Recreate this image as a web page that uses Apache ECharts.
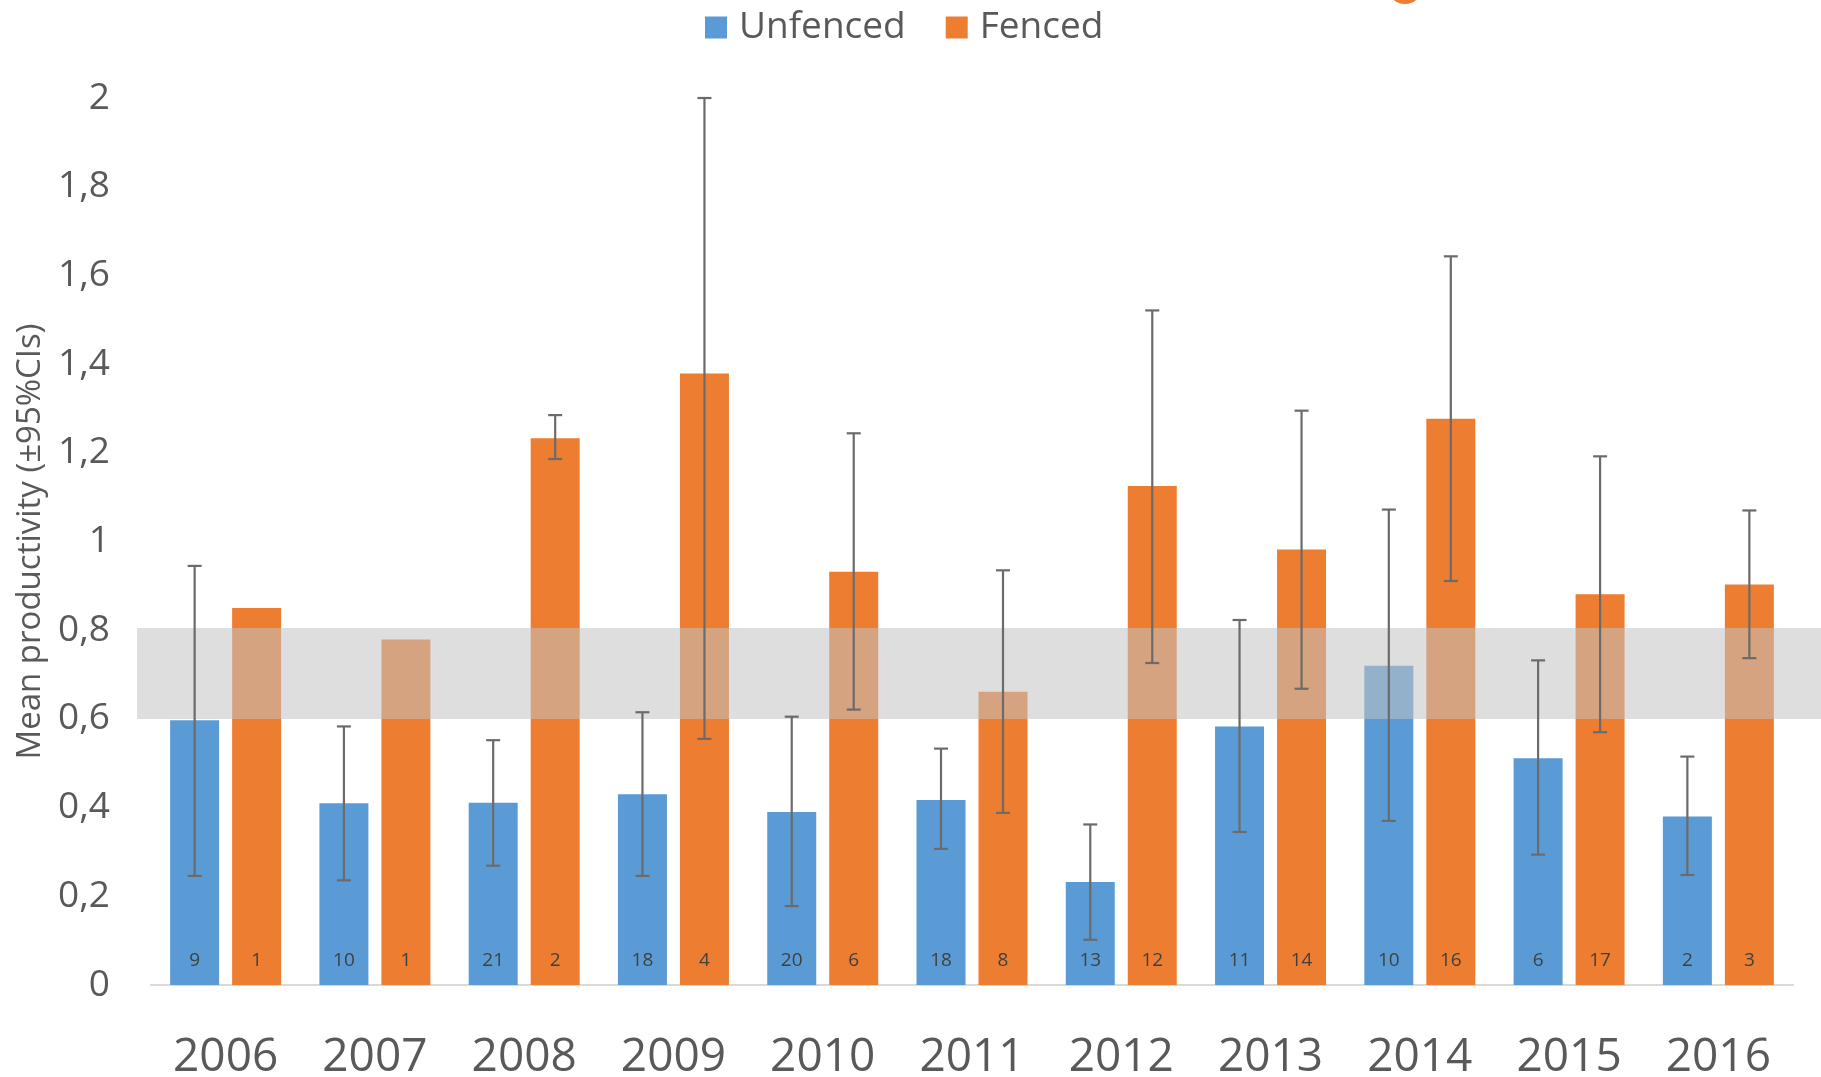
<!DOCTYPE html>
<html>
<head>
<meta charset="utf-8">
<script src="https://cdn.jsdelivr.net/npm/echarts@6/dist/echarts.min.js"></script>
<style>
  html, body { margin: 0; padding: 0; background: #fff; }
  #chart { width: 1821px; height: 1077px; }
</style>
</head>
<body>
<div id="chart"></div>
<script>
// years on the x axis
var years = ['2006', '2007', '2008', '2009', '2010', '2011', '2012', '2013', '2014', '2015', '2016'];

// mean productivity
var unfenced = [0.597, 0.41, 0.411, 0.43, 0.39, 0.417, 0.232, 0.583, 0.72, 0.511, 0.38];
var fenced = [0.85, 0.779, 1.233, 1.379, 0.932, 0.661, 1.125, 0.982, 1.277, 0.881, 0.903];

// 95% CI bounds (null = no error bar)
var unfencedLow = [0.246, 0.236, 0.269, 0.246, 0.178, 0.307, 0.102, 0.345, 0.37, 0.294, 0.248];
var unfencedHigh = [0.945, 0.583, 0.552, 0.615, 0.605, 0.533, 0.362, 0.823, 1.072, 0.732, 0.515];
var fencedLow = [null, null, 1.186, 0.555, 0.621, 0.388, 0.726, 0.668, 0.911, 0.57, 0.737];
var fencedHigh = [null, null, 1.285, 2.0, 1.244, 0.935, 1.521, 1.295, 1.643, 1.192, 1.07];

// sample sizes written in the bars
var unfencedN = [9, 10, 21, 18, 20, 18, 13, 11, 10, 6, 2];
var fencedN = [1, 1, 2, 4, 6, 8, 12, 14, 16, 17, 3];

// reference band
var bandLow = 0.6;
var bandHigh = 0.805;

var BLUE = '#5b9bd5';
var ORANGE = '#ed7d31';
var TEXT = '#595959';
var BAR_W = 49;
var BAR_GAP = 13;

function errorData(low, high) {
  var out = [];
  for (var i = 0; i < low.length; i++) {
    if (low[i] == null || high[i] == null) continue;
    out.push([i, low[i], high[i]]);
  }
  return out;
}

// draws vertical whisker with caps, shifted to the bar centre
function errorBar(offset) {
  return function (params, api) {
    var lo = api.coord([api.value(0), api.value(1)]);
    var hi = api.coord([api.value(0), api.value(2)]);
    var x = lo[0] + offset;
    var cap = 7;
    var style = { stroke: '#6b6b6b', lineWidth: 2.2 };
    return {
      type: 'group',
      children: [
        { type: 'line', shape: { x1: x, y1: hi[1], x2: x, y2: lo[1] }, style: style },
        { type: 'line', shape: { x1: x - cap, y1: hi[1], x2: x + cap, y2: hi[1] }, style: style },
        { type: 'line', shape: { x1: x - cap, y1: lo[1], x2: x + cap, y2: lo[1] }, style: style }
      ]
    };
  };
}

function countLabel(counts) {
  return {
    show: true,
    position: 'insideBottom',
    distance: 15,
    fontFamily: 'Open Sans',
    fontSize: 19,
    color: '#404040',
    formatter: function (p) { return counts[p.dataIndex]; }
  };
}

var chart = echarts.init(document.getElementById('chart'));

var option = {
  animation: false,
  backgroundColor: '#fff',
  textStyle: { fontFamily: 'Open Sans' },
  legend: {
    data: ['Unfenced', 'Fenced'],
    top: 4,
    left: 700,
    icon: 'rect',
    itemWidth: 22,
    itemHeight: 22,
    itemGap: 40,
    textStyle: { fontFamily: 'Open Sans', fontSize: 37, color: TEXT, padding: [0, 0, 0, 7] }
  },
  grid: { left: 151, right: 28, top: 98, bottom: 92, containLabel: false, outerBoundsMode: 'none' },
  xAxis: {
    type: 'category',
    data: years,
    axisLine: { lineStyle: { color: '#d9d9d9', width: 2 } },
    axisTick: { show: false },
    axisLabel: { fontFamily: 'Open Sans', fontSize: 46, color: TEXT, margin: 50 }
  },
  yAxis: {
    type: 'value',
    min: 0,
    max: 2,
    interval: 0.2,
    name: 'Mean productivity (±95%CIs)',
    nameLocation: 'middle',
    nameGap: 104,
    nameRotate: 90,
    nameTextStyle: { fontFamily: 'Open Sans', fontSize: 33, color: TEXT },
    axisLine: { show: false },
    axisTick: { show: false },
    splitLine: { show: false },
    axisLabel: {
      fontFamily: 'Open Sans',
      fontSize: 37,
      color: TEXT,
      margin: 41,
      formatter: function (v) { return String(Math.round(v * 10) / 10).replace('.', ','); }
    }
  },
  series: [
    {
      name: 'Unfenced',
      type: 'bar',
      data: unfenced,
      barWidth: BAR_W,
      barGap: (BAR_GAP / BAR_W * 100) + '%',
      itemStyle: { color: BLUE },
      label: countLabel(unfencedN),
      z: 2
    },
    {
      name: 'Fenced',
      type: 'bar',
      data: fenced,
      barWidth: BAR_W,
      itemStyle: { color: ORANGE },
      label: countLabel(fencedN),
      z: 2
    },
    {
      name: 'band',
      type: 'line',
      data: [],
      clip: false,
      silent: true,
      markArea: {
        silent: true,
        z: 3,
        itemStyle: { color: 'rgba(195,195,195,0.55)' },
        data: [[{ x: 137, yAxis: bandLow }, { x: '100%', yAxis: bandHigh }]]
      }
    },
    {
      name: 'UnfencedCI',
      type: 'custom',
      renderItem: errorBar(-(BAR_W + BAR_GAP) / 2),
      data: errorData(unfencedLow, unfencedHigh),
      z: 5,
      silent: true
    },
    {
      name: 'FencedCI',
      type: 'custom',
      renderItem: errorBar((BAR_W + BAR_GAP) / 2),
      data: errorData(fencedLow, fencedHigh),
      z: 5,
      silent: true
    }
  ],
  graphic: [
    {
      // clipped orange mark at the top edge of the source image
      type: 'circle',
      shape: { cx: 1405, cy: -14, r: 18 },
      style: { fill: ORANGE },
      silent: true
    }
  ]
};

chart.setOption(option);
</script>
</body>
</html>
